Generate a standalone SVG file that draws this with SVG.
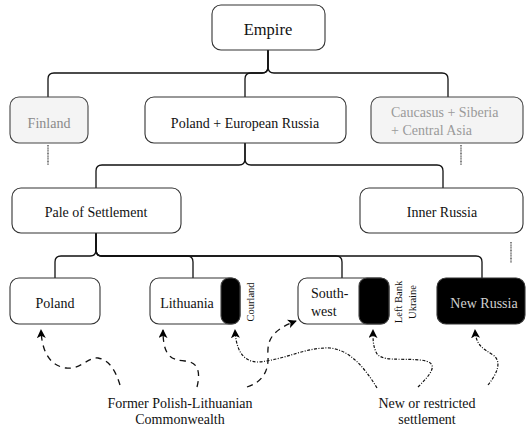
<svg xmlns="http://www.w3.org/2000/svg" width="526" height="427" viewBox="0 0 526 427" font-family="'Liberation Serif', 'DejaVu Serif', 'Times New Roman', Times, serif">
<style>
  text { font-family: 'Liberation Serif', 'DejaVu Serif', 'Times New Roman', Times, serif; font-size: 14px; fill: #111; }
  .box { fill: #fff; stroke: #333; stroke-width: 1.1; }
  .gbox { fill: #f4f4f4; stroke: #444; stroke-width: 1.1; }
  .blk { fill: #000; stroke: #444; stroke-width: 1.1; }
  .grey { fill: #8a8a8a; }
  .lgrey { fill: #9a9a9a; }
  .mid { text-anchor: middle; }
  .small { font-size: 10.5px; }
  .tree { fill: none; stroke: #111; stroke-width: 1.3; }
  .dotv { fill: none; stroke: #333; stroke-width: 1.2; stroke-dasharray: 1 0.6; }
  .dash { fill: none; stroke: #111; stroke-width: 1.3; stroke-dasharray: 6 5; marker-end: url(#ah); }
  .dd { fill: none; stroke: #111; stroke-width: 1.2; stroke-dasharray: 3 1.5 1 1.5; marker-end: url(#ah); }
</style>
<defs>
  <marker id="ah" viewBox="0 0 10 10" refX="9" refY="5" markerWidth="9" markerHeight="9" markerUnits="userSpaceOnUse" orient="auto">
    <path d="M0,0 L10,5 L0,10 L2.5,5 Z" fill="#000"/>
  </marker>
</defs>

<g id="connectors">
  <path class="tree" d="M268,50 V67 Q268,73 262,73 H54 Q48,73 48,79 V97"/>
  <path class="tree" d="M268,50 V67 Q268,73 262,73 H251 Q245,73 245,79 V97"/>
  <path class="tree" d="M268,50 V67 Q268,73 274,73 H442 Q448,73 448,79 V97"/>
  <path class="tree" d="M245,143 V159 Q245,165 239,165 H102 Q96,165 96,171 V188"/>
  <path class="tree" d="M245,143 V159 Q245,165 251,165 H437 Q443,165 443,171 V188"/>
  <path class="tree" d="M96,233 V250 Q96,256 90,256 H61 Q55,256 55,262 V278"/>
  <path class="tree" d="M96,233 V250 Q96,256 102,256 H187 Q193,256 193,262 V278"/>
  <path class="tree" d="M96,233 V250 Q96,256 102,256 H336 Q342,256 342,262 V278"/>
  <path class="tree" d="M96,233 V250 Q96,256 102,256 H476 Q482,256 482,262 V278"/>
  <path class="dotv" d="M48,145 V165"/>
  <path class="dotv" d="M461,145 V165"/>
  <path class="dotv" d="M511,242 V263"/>
  <path class="dash" d="M120,385 C116,372 110,360 98,358 C88,357 80,370 66,368 C52,366 42,355 41,330"/>
  <path class="dash" d="M197,387 C200,375 200,362 185,361 C170,360 163,355 163,330"/>
  <path class="dash" d="M247,387 C262,382 269,372 268,355 C267,340 272,330 296,321"/>
  <path class="dd" d="M377,388 C365,368 350,350 330,348 C305,347 285,360 258,362 C243,362 236,350 235,330"/>
  <path class="dd" d="M418,387 C430,375 442,362 420,360 C400,358 380,362 376,352 C373,345 373,340 373,330"/>
  <path class="dd" d="M488,385 C496,375 503,362 493,355 C482,348 476,345 475,330"/>
</g>

<g id="empire">
  <rect class="box" x="212" y="5" width="113" height="45" rx="9"/>
  <text class="mid" x="268" y="35" style="font-size:16.5px">Empire</text>
</g>
<g id="finland">
  <rect class="gbox" x="10" y="97" width="78" height="46" rx="9"/>
  <text class="mid grey" x="49" y="128">Finland</text>
</g>
<g id="poland-european-russia">
  <rect class="box" x="145" y="97" width="201" height="46" rx="9"/>
  <text class="mid" x="245" y="128">Poland + European Russia</text>
</g>
<g id="caucasus">
  <rect class="gbox" x="371" y="97" width="152" height="46" rx="9"/>
  <text class="lgrey" x="391" y="117">Caucasus + Siberia</text>
  <text class="lgrey" x="391" y="135">+ Central Asia</text>
</g>
<g id="pale">
  <rect class="box" x="12" y="188" width="169" height="45" rx="9"/>
  <text class="mid" x="96" y="217">Pale of Settlement</text>
</g>
<g id="inner-russia">
  <rect class="box" x="360" y="188" width="163" height="45" rx="9"/>
  <text class="mid" x="442" y="217">Inner Russia</text>
</g>
<g id="poland">
  <rect class="box" x="10" y="278" width="90" height="46" rx="9"/>
  <text class="mid" x="55" y="308">Poland</text>
</g>
<g id="lithuania">
  <rect class="box" x="150" y="278" width="90" height="46" rx="9"/>
  <rect class="blk" x="221" y="278" width="19" height="46" rx="8"/>
  <text class="mid" x="187" y="308">Lithuania</text>
  <text class="mid small" transform="translate(254,302) rotate(-90)">Courland</text>
</g>
<g id="southwest">
  <rect class="box" x="298" y="278" width="91" height="46" rx="9"/>
  <rect class="blk" x="359" y="278" width="30" height="46" rx="8"/>
  <text x="311" y="298">South-</text>
  <text x="311" y="316">west</text>
  <text class="mid small" transform="translate(402,302) rotate(-90)">Left Bank</text>
  <text class="mid small" transform="translate(416,302) rotate(-90)">Ukraine</text>
</g>
<g id="new-russia">
  <rect x="437" y="278" width="88" height="46" rx="9" fill="#000" stroke="#333" stroke-width="1.1"/>
  <text class="mid" x="484" y="308" style="fill:#d0d0d0">New Russia</text>
</g>
<g id="labels">
  <text class="mid" x="180" y="408">Former Polish-Lithuanian</text>
  <text class="mid" x="180" y="424">Commonwealth</text>
  <text class="mid" x="427" y="408">New or restricted</text>
  <text class="mid" x="427" y="424">settlement</text>
</g>
</svg>
